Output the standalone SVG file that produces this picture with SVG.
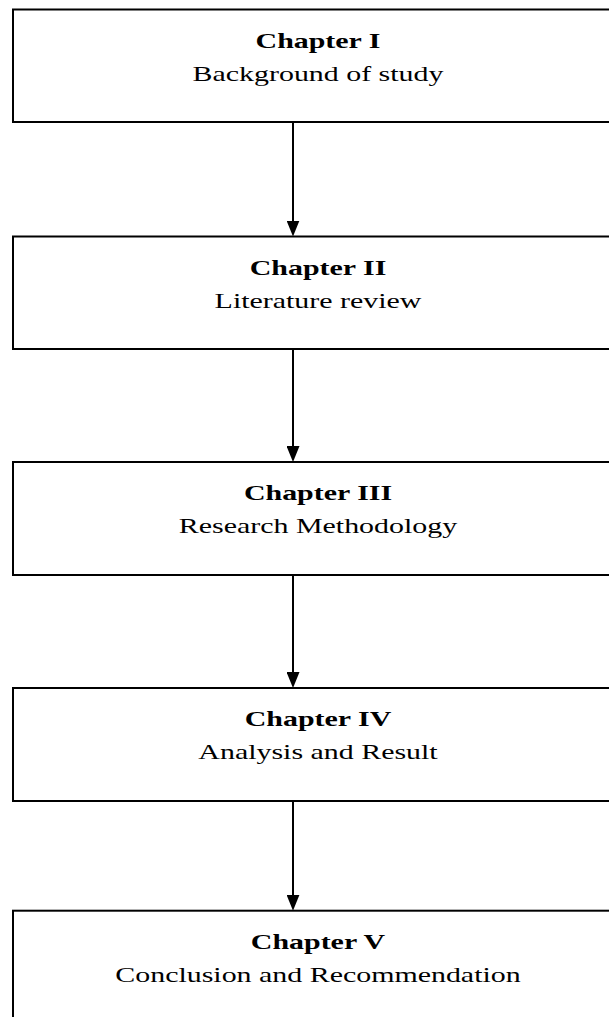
<svg xmlns="http://www.w3.org/2000/svg" width="609" height="1017" viewBox="0 0 609 1017">
<defs>
<style>
.box{fill:#fff;stroke:#000;stroke-width:2}
.t{font-family:"Liberation Serif","Times New Roman",serif;font-size:22px;text-anchor:middle;fill:#000}
.b{font-weight:bold}
.c{stroke:#000;stroke-width:2;fill:none}
</style>
<marker id="ah" markerUnits="userSpaceOnUse" viewBox="0 0 16 13" markerWidth="16" markerHeight="13" refX="2" refY="6.5" orient="auto">
<path d="M0,0 L16,6.5 L0,13 z" fill="#000"/>
</marker>
</defs>
<rect width="609" height="1017" fill="#fff"/>
<g id="connectors">
<line class="c" x1="293" y1="122" x2="293" y2="222.5" marker-end="url(#ah)"/>
<line class="c" x1="293" y1="349" x2="293" y2="448" marker-end="url(#ah)"/>
<line class="c" x1="293" y1="575" x2="293" y2="674" marker-end="url(#ah)"/>
<line class="c" x1="293" y1="801" x2="293" y2="896.7" marker-end="url(#ah)"/>
</g>
<g id="ch1">
<rect class="box" x="13" y="9.5" width="620" height="112.5"/>
<g transform="translate(318 0) scale(1.36 1)">
<text class="t b" x="0" y="48">Chapter I</text>
<text class="t" x="0" y="81">Background of study</text>
</g>
</g>
<g id="ch2">
<rect class="box" x="13" y="236.5" width="620" height="112.5"/>
<g transform="translate(318 0) scale(1.36 1)">
<text class="t b" x="0" y="275">Chapter II</text>
<text class="t" x="0" y="308">Literature review</text>
</g>
</g>
<g id="ch3">
<rect class="box" x="13" y="462" width="620" height="113"/>
<g transform="translate(318 0) scale(1.36 1)">
<text class="t b" x="0" y="500.5">Chapter III</text>
<text class="t" x="0" y="533.5">Research Methodology</text>
</g>
</g>
<g id="ch4">
<rect class="box" x="13" y="688" width="620" height="113"/>
<g transform="translate(318 0) scale(1.36 1)">
<text class="t b" x="0" y="726.5">Chapter IV</text>
<text class="t" x="0" y="759.5">Analysis and Result</text>
</g>
</g>
<g id="ch5">
<rect class="box" x="13" y="910.7" width="620" height="130"/>
<g transform="translate(318 0) scale(1.36 1)">
<text class="t b" x="0" y="949">Chapter V</text>
<text class="t" x="0" y="982">Conclusion and Recommendation</text>
</g>
</g>
</svg>
